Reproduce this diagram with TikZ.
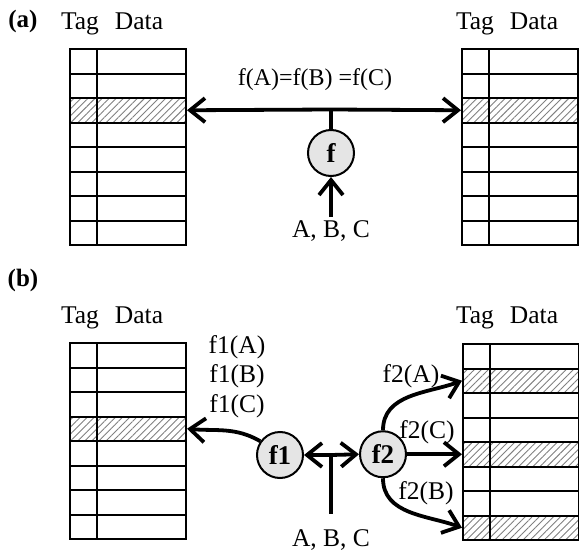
\documentclass[tikz,border=0pt]{standalone}
\usepackage{fontspec}
\setmainfont{Liberation Serif}
\usetikzlibrary{arrows.meta,patterns.meta}

\tikzset{
  cell/.style={draw,line width=2pt,minimum width=116pt,minimum height=24.5pt,inner sep=0pt},
  hatched/.style={pattern={Lines[angle=45,distance=5pt,line width=0.9pt]},pattern color=gray},
  func/.style={circle,draw,line width=2pt,fill=gray!20,minimum size=46pt,inner sep=0pt,font=\fontsize{27}{30}\selectfont\bfseries},
  link/.style={line width=3.8pt,-{Straight Barb[length=15pt,width=24pt]}},
  stem/.style={line width=3.8pt},
  head/.style={anchor=base}
}

\begin{document}
\begin{tikzpicture}[x=1pt,y=-1pt,font=\fontsize{25.5}{30}\selectfont]
\useasboundingbox (0,0) rectangle (579,554);
% (a)
\node[font=\fontsize{25}{30}\selectfont\bfseries] (lbla) at (23,21) {(a)};
\begin{scope}[shift={(70,49)}]
\path[hatched] (0,49) rectangle (116,73.5);
\foreach \r in {0,...,7} \node[cell] (LA\r) at (58,12.25+24.5*\r) {};
\draw[line width=2pt] (27,0) -- (27,196);
\node[head] (tagLA) at (10,-19) {Tag};\node[head] (dataLA) at (69,-19) {Data};
\end{scope}
\begin{scope}[shift={(462,49)}]
\path[hatched] (0,49) rectangle (116,73.5);
\foreach \r in {0,...,7} \node[cell] (RA\r) at (58,12.25+24.5*\r) {};
\draw[line width=2pt] (27,0) -- (27,196);
\node[head] (tagRA) at (13,-19) {Tag};\node[head] (dataRA) at (72,-19) {Data};
\end{scope}
\coordinate (jA) at (331,109.5);
\node[func] (fA) at (331,153) {f};
\node (abcA) at (331,231) {A, B, C};
\node[font=\fontsize{24}{28}\selectfont] (eqA) at (315,80) {f(A)=f(B) =f(C)};
\draw[link] (jA) -- (LA2.east);
\draw[link] (jA) -- (RA2.west);
\draw[stem] (jA) -- (fA.north);
\draw[link] (abcA.north) -- (fA.south);

% (b)
\node[font=\fontsize{25}{30}\selectfont\bfseries] (lblb) at (23,280) {(b)};
\begin{scope}[shift={(70,343)}]
\path[hatched] (0,73.5) rectangle (116,98);
\foreach \r in {0,...,7} \node[cell] (LB\r) at (58,12.25+24.5*\r) {};
\draw[line width=2pt] (27,0) -- (27,196);
\node[head] (tagLB) at (10,-20) {Tag};\node[head] (dataLB) at (69,-20) {Data};
\end{scope}
\begin{scope}[shift={(463,344)}]
\foreach \r in {1,4,7} \path[hatched] (0,24.5*\r) rectangle (116,24.5*\r+24.5);
\foreach \r in {0,...,7} \node[cell] (RB\r) at (58,12.25+24.5*\r) {};
\draw[line width=2pt] (27,0) -- (27,196);
\node[head] (tagRB) at (12,-21) {Tag};\node[head] (dataRB) at (71,-21) {Data};
\end{scope}
\node (f1A) at (237,347) {f1(A)};
\node (f1B) at (237,376) {f1(B)};
\node (f1C) at (237,406) {f1(C)};
\node[func] (f1) at (280,455) {f1};
\node[func] (f2) at (383,454.25) {f2};
\coordinate (jB) at (331,455);
\node (abcB) at (331,540) {A, B, C};
\draw[link] (jB) -- (f1.east);
\draw[link] (jB) -- (f2.west);
\draw[stem] (jB) -- ([yshift=12pt]abcB.north);
\draw[link] (f1.145) to[out=150,in=-5] (LB3.east);
\draw[link] (f2.north) to[out=90,in=200] (RB1.west);
\draw[link] (f2.east) -- (RB4.west);
\draw[link] (f2.south) to[out=-90,in=160] (RB7.west);
\node (f2A) at (411,376) {f2(A)};
\node (f2C) at (427,432) {f2(C)};
\node (f2B) at (426,493) {f2(B)};
\end{tikzpicture}
\end{document}
